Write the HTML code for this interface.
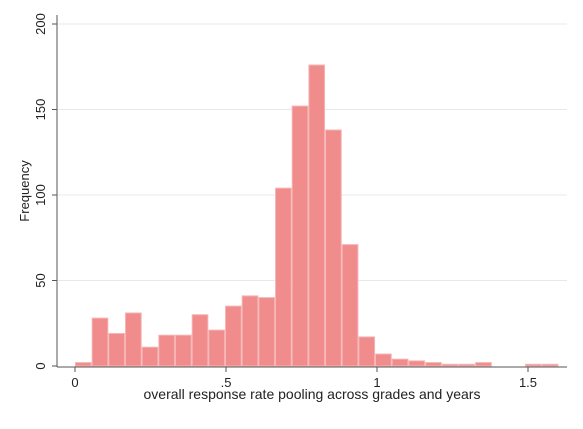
<!DOCTYPE html>
<html><head><meta charset="utf-8"><style>
body{margin:0;background:#fff;font-family:"Liberation Sans",sans-serif}
</style></head><body>
<svg id="c" width="583" height="424" xmlns="http://www.w3.org/2000/svg" font-family="Liberation Sans, sans-serif"></svg>
<script>
const binWidth = 0.0552;
const counts = [2,28,19,31,11,18,18,30,21,35,41,40,104,152,176,138,71,17,7,4,3,2,1,1,2,0,0,1,1];
const yTicks = [0,50,100,150,200];
const xTicks = [0,0.5,1,1.5];
const xTickLabels = ["0",".5","1","1.5"];
const NS = "http://www.w3.org/2000/svg";
const svg = document.getElementById('c');
const xs = v => 75 + v * 302;
const ys = v => 366 - v * 1.71;
function mk(t, a, p) { const e = document.createElementNS(NS, t); for (const k in a) e.setAttribute(k, a[k]); (p || svg).appendChild(e); return e; }
yTicks.forEach(t => {
  if (t > 0) {
    const g = mk('line', {x1: 58, x2: 567, y1: ys(t), y2: ys(t), stroke: '#e8e8e8', 'stroke-width': 1});
    
    
  }
  const tk = mk('line', {x1: 52, x2: 57, y1: ys(t), y2: ys(t), stroke: '#555'});
  
  
  const tx = mk('text', {x: 0, y: 0, 'font-size': 13, 'text-anchor': 'middle', fill: '#222', transform: `translate(45,${ys(t)}) rotate(-90)`});
  tx.textContent = t;
  
  
});
counts.forEach((c, i) => {
  if (c <= 0) return;
  const x0 = xs(i * binWidth), x1 = xs((i + 1) * binWidth);
  const r = mk('rect', {x: x0 + 0.5, y: ys(c), width: x1 - x0 - 1, height: ys(0) - ys(c), fill: '#f08c8c', stroke: '#f6b4b4', 'stroke-width': 1});
  
  
});
const ya = mk('line', {x1: 57, x2: 57, y1: 15, y2: 367, stroke: '#555'});


const xa = mk('line', {x1: 57, x2: 567, y1: 367, y2: 367, stroke: '#555'});


xTicks.forEach((t, i) => {
  const tk = mk('line', {x1: xs(t), x2: xs(t), y1: 367, y2: 372, stroke: '#555'});
  
  
  const tx = mk('text', {x: xs(t), y: 387, 'font-size': 13, 'text-anchor': 'middle', fill: '#222'});
  tx.textContent = xTickLabels[i];
  
  
});
const xt = mk('text', {x: 312, y: 399, 'font-size': 14, 'text-anchor': 'middle', fill: '#222'});
xt.textContent = 'overall response rate pooling across grades and years';


const yt = mk('text', {x: 0, y: 0, 'font-size': 13, 'text-anchor': 'middle', fill: '#222', transform: 'translate(29,191) rotate(-90)'});
yt.textContent = 'Frequency';


</script>
</body></html>
